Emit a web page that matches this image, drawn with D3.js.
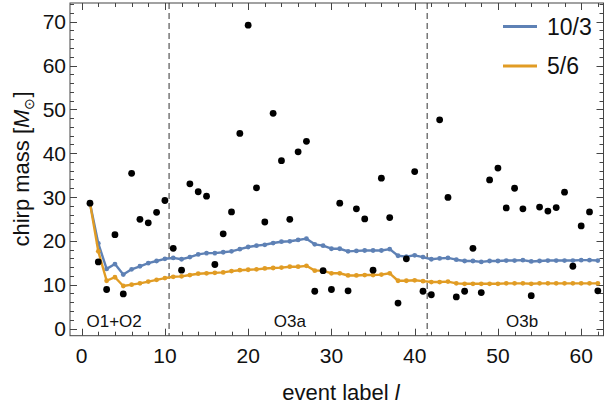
<!DOCTYPE html>
<html><head><meta charset="utf-8">
<script src="https://cdn.jsdelivr.net/npm/d3@7"></script>
<style>
body{margin:0;background:#fff;}
text{font-family:"Liberation Sans",Arial,sans-serif;}
</style></head>
<body><svg id="c" width="607" height="407"></svg>
<script>
// event labels 1..62
const events = [1,2,3,4,5,6,7,8,9,10,11,12,13,14,15,16,17,18,19,20,21,22,23,24,25,26,27,28,29,30,31,32,33,34,35,36,37,38,39,40,41,42,43,44,45,46,47,48,49,50,51,52,53,54,55,56,57,58,59,60,61,62];
// chirp masses of the events (black dots)
const chirpMass = [28.6,15.2,8.9,21.4,7.9,35.4,24.9,24.1,26.5,29.2,
  18.3,13.3,33.0,31.2,30.2,14.6,21.6,26.6,44.5,69.2,
  32.1,24.3,49.1,38.3,24.9,40.3,42.7,8.5,13.2,8.9,
  28.6,8.6,27.3,25.0,13.3,34.3,25.3,5.8,15.9,35.8,
  8.5,7.7,47.6,29.9,7.2,8.5,18.3,8.2,33.9,36.6,
  27.5,32.0,27.3,7.5,27.7,26.8,27.6,31.1,14.2,23.4,
  26.6,8.6];
// series "10/3"
const series103 = [28.6,19.4,13.6,14.7,12.3,13.5,14.2,14.9,15.4,15.9,
  16.1,15.8,16.3,16.9,17.2,17.2,17.4,17.6,18.1,18.6,
  18.9,19.1,19.5,19.8,19.9,20.2,20.5,19.2,18.9,18.2,
  18.2,17.6,17.7,17.8,17.8,17.8,18.1,16.6,16.4,16.7,
  16.3,15.8,16.0,16.1,15.7,15.4,15.4,15.2,15.4,15.4,
  15.5,15.5,15.6,15.3,15.4,15.5,15.5,15.5,15.5,15.6,
  15.6,15.5];
// series "5/6"
const series56 = [28.6,17.6,10.9,11.7,9.7,10.0,10.3,10.7,11.1,11.5,
  11.8,11.9,12.2,12.5,12.6,12.7,12.8,13.1,13.3,13.4,
  13.5,13.7,13.8,13.9,14.1,14.1,14.3,13.2,13.2,12.6,
  12.6,12.1,12.1,12.2,12.2,12.3,12.6,10.9,10.9,11.0,
  10.8,10.6,10.6,10.7,10.3,10.2,10.2,10.2,10.2,10.2,
  10.3,10.3,10.3,10.2,10.3,10.3,10.3,10.3,10.3,10.3,
  10.3,10.3];
const seriesNames = ["10/3","5/6"];
const seriesColors = ["#5e81b5","#e19c24"];
const runBoundaries = [10.5, 41.5];
const runLabels = ["O1+O2","O3a","O3b"];
const runLabelX = [3.9, 25, 52.9];
const xTicks = [0,10,20,30,40,50,60];
const yTicks = [0,10,20,30,40,50,60,70];

const svg = d3.select("#c");
const L=70, R=603.5, T=3, B=335.7;
const x = d3.scaleLinear().domain([-1.4, 62.68]).range([L, R]);
const y = d3.scaleLinear().domain([-1.64, 74.26]).range([B, T]);
const frameColor = "#444";

// frame
svg.append("rect").attr("x",L).attr("y",T).attr("width",R-L).attr("height",B-T)
  .attr("fill","none").attr("stroke",frameColor).attr("stroke-width",1);

const xMinor = d3.range(0, 63, 2);
const yMinor = d3.range(0, 75, 2);
const tk = svg.append("g").attr("stroke",frameColor).attr("stroke-width",1);
xMinor.forEach(v=>{
  const len = (v%10===0)?7:4;
  const px = Math.round(x(v))+0.5;
  tk.append("line").attr("x1",px).attr("x2",px).attr("y1",B).attr("y2",B-len);
  tk.append("line").attr("x1",px).attr("x2",px).attr("y1",T).attr("y2",T+len);
});
yMinor.forEach(v=>{
  const len = (v%10===0)?7:4;
  const py = Math.round(y(v))+0.5;
  tk.append("line").attr("y1",py).attr("y2",py).attr("x1",L).attr("x2",L+len);
  tk.append("line").attr("y1",py).attr("y2",py).attr("x1",R).attr("x2",R-len);
});

// tick labels
svg.append("g").selectAll("text").data(xTicks).join("text")
  .attr("x",d=>x(d)).attr("y",B+27).attr("text-anchor","middle")
  .attr("font-size",21).attr("fill","#111").text(d=>d);
svg.append("g").selectAll("text").data(yTicks).join("text")
  .attr("x",L-4).attr("y",d=>y(d)+7.5).attr("text-anchor","end")
  .attr("font-size",21).attr("fill","#111").text(d=>d);

// axis titles
svg.append("text").attr("x",341).attr("y",400).attr("text-anchor","middle")
  .attr("font-size",22).attr("fill","#111")
  .html('event label <tspan font-style="italic">l</tspan>');
const yt = svg.append("text").attr("transform","translate(29,169) rotate(-90)")
  .attr("text-anchor","middle").attr("font-size",22).attr("fill","#111");
yt.append("tspan").text("chirp mass [");
yt.append("tspan").attr("font-style","italic").text("M");
yt.append("tspan").attr("font-size",14).attr("dy",5).text("⊙");
yt.append("tspan").attr("dy",-5).text("]");

// run boundaries
svg.append("g").selectAll("line").data(runBoundaries).join("line")
  .attr("x1",d=>x(d)).attr("x2",d=>x(d)).attr("y1",T).attr("y2",B)
  .attr("stroke","#333").attr("stroke-width",1).attr("stroke-dasharray","6,4");

// run labels
svg.append("g").selectAll("text").data(runLabels).join("text")
  .attr("x",(d,i)=>x(runLabelX[i])).attr("y",327).attr("text-anchor","middle")
  .attr("font-size",17).attr("fill","#111").text(d=>d);

// series lines
const seriesData = [series103, series56];
const line = d3.line().x((d,i)=>x(events[i])).y(d=>y(d));
seriesData.forEach((s,k)=>{
  const g = svg.append("g");
  g.append("path").datum(s).attr("d",line).attr("fill","none")
    .attr("stroke",seriesColors[k]).attr("stroke-width",2.4).attr("stroke-linejoin","round");
  g.selectAll("circle").data(s).join("circle")
    .attr("cx",(d,i)=>x(events[i])).attr("cy",d=>y(d)).attr("r",2.4).attr("fill",seriesColors[k]);
});

// event dots
svg.append("g").selectAll("circle").data(chirpMass).join("circle")
  .attr("cx",(d,i)=>x(events[i])).attr("cy",d=>y(d)).attr("r",3.4).attr("fill","#000");

// legend
const lg = svg.append("g");
seriesNames.forEach((n,k)=>{
  const yy = 26.5 + k*39.5;
  lg.append("line").attr("x1",503).attr("x2",537).attr("y1",yy).attr("y2",yy)
    .attr("stroke",seriesColors[k]).attr("stroke-width",2.8);
  lg.append("text").attr("x",547).attr("y",yy+8).attr("font-size",23).attr("fill","#111").text(n);
});
</script></body></html>
